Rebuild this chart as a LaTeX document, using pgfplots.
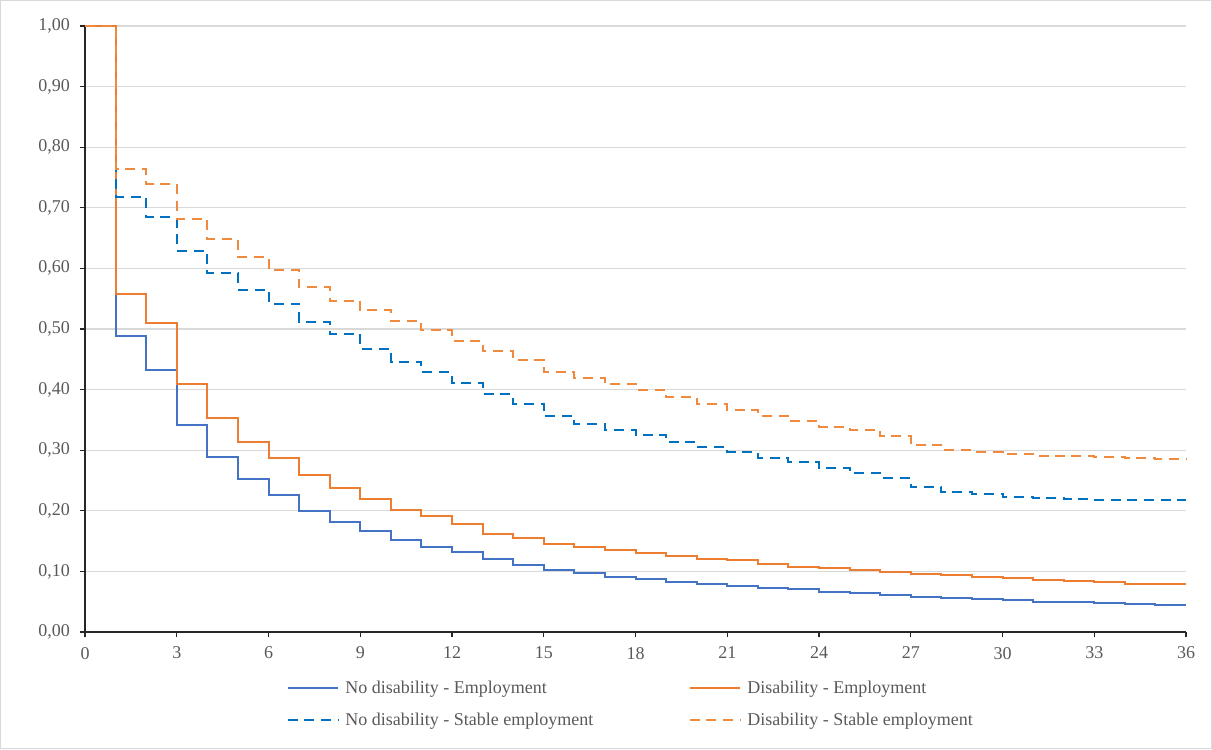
\documentclass[border=0pt]{standalone}
\usepackage{pgfplots}
\pgfplotsset{compat=1.18}
\usepackage{pgfplotstable}
\usepackage{fontspec}
\setmainfont{Liberation Serif}
\definecolor{blueS}{HTML}{4472C4}
\definecolor{orangeS}{HTML}{ED7D31}
\definecolor{blueD}{HTML}{0070C0}
\definecolor{orangeD}{HTML}{F08A3E}
\definecolor{txtgray}{HTML}{595959}
\definecolor{gridgray}{HTML}{D9D9D9}

\pgfplotstableread{
x y
0 1.000
1 0.489
2 0.433
3 0.342
4 0.288
5 0.252
6 0.226
7 0.200
8 0.182
9 0.166
10 0.151
11 0.141
12 0.132
13 0.1205
14 0.111
15 0.102
16 0.097
17 0.091
18 0.087
19 0.082
20 0.079
21 0.076
22 0.0726
23 0.0704
24 0.0665
25 0.064
26 0.061
27 0.058
28 0.0556
29 0.054
30 0.052
31 0.050
32 0.049
33 0.0484
34 0.046
35 0.0446
36 0.0446
}\noDisEmp

\pgfplotstableread{
x y
0 1.000
1 0.558
2 0.510
3 0.409
4 0.353
5 0.313
6 0.287
7 0.259
8 0.237
9 0.219
10 0.201
11 0.191
12 0.1777
13 0.162
14 0.155
15 0.145
16 0.140
17 0.135
18 0.130
19 0.126
20 0.120
21 0.118
22 0.113
23 0.108
24 0.105
25 0.102
26 0.099
27 0.096
28 0.094
29 0.091
30 0.0886
31 0.086
32 0.084
33 0.082
34 0.080
35 0.080
36 0.080
}\disEmp

\pgfplotstableread{
x y
0 1.000
1 0.718
2 0.684
3 0.629
4 0.592
5 0.565
6 0.542
7 0.512
8 0.492
9 0.467
10 0.446
11 0.429
12 0.411
13 0.393
14 0.377
15 0.357
16 0.343
17 0.333
18 0.325
19 0.313
20 0.305
21 0.297
22 0.287
23 0.280
24 0.2706
25 0.262
26 0.254
27 0.239
28 0.231
29 0.228
30 0.223
31 0.221
32 0.219
33 0.218
34 0.217
35 0.217
36 0.217
}\noDisStable

\pgfplotstableread{
x y
0 1.000
1 0.764
2 0.739
3 0.681
4 0.648
5 0.618
6 0.597
7 0.569
8 0.547
9 0.531
10 0.514
11 0.498
12 0.481
13 0.463
14 0.449
15 0.429
16 0.419
17 0.409
18 0.400
19 0.388
20 0.376
21 0.367
22 0.357
23 0.348
24 0.339
25 0.334
26 0.323
27 0.308
28 0.300
29 0.2975
30 0.294
31 0.291
32 0.290
33 0.289
34 0.287
35 0.286
36 0.286
}\disStable

\begin{document}
\begin{tikzpicture}
\useasboundingbox (0,0) rectangle (909pt,561.75pt);
\draw[gridgray, line width=1pt] (0.5pt,0.5pt) rectangle (908.5pt,561.25pt);
\begin{axis}[
  at={(63.75pt,87.75pt)}, anchor=south west,
  scale only axis, width=825.75pt, height=454.5pt,
  xmin=0, xmax=36, ymin=0, ymax=1,
  axis x line=bottom, axis y line=left,
  axis line style={-, black!85, line width=1.2pt},
  xtick={0,3,...,36},
  ytick={0,0.1,0.2,0.3,0.4,0.5,0.6,0.7,0.8,0.9,1.0},
  tick align=outside, major tick length=4pt,
  tick style={black!85, line width=1pt},
  ymajorgrids, grid style={gridgray, line width=1pt},
  tick label style={font=\fontsize{13.5}{16}\selectfont, text=txtgray},
  /pgf/number format/assume math mode=true,
  yticklabel style={xshift=-3.75pt, /pgf/number format/.cd, fixed, fixed zerofill, precision=2, use comma},
  xticklabel style={yshift=-3.75pt},
  clip=false,
  legend columns=2,
  legend cell align=left,
  legend style={draw=none, fill=none, at={(axis description cs:0.1794,-0.0712)}, anchor=north west,
    font=\fontsize{13.5}{16}\selectfont, text=txtgray,
    /tikz/every even column/.append style={column sep=69.5pt},
    row sep=9.5pt},
  legend image code/.code={\draw[#1] (0pt,0pt) -- (38pt,0pt); \path (40.5pt,0pt);},
]
\addplot[const plot, blueS, line width=1.5pt] table {\noDisEmp};
\addlegendentry{No disability - Employment}
\addplot[const plot, orangeS, line width=1.5pt] table {\disEmp};
\addlegendentry{Disability - Employment}
\addplot[const plot, blueD, line width=1.5pt, dash pattern=on 7.5pt off 5pt] table {\noDisStable};
\addlegendentry{No disability - Stable employment}
\addplot[const plot, orangeD, line width=1.5pt, dash pattern=on 7.5pt off 5pt] table {\disStable};
\addlegendentry{Disability - Stable employment}
\end{axis}
\end{tikzpicture}
\end{document}
